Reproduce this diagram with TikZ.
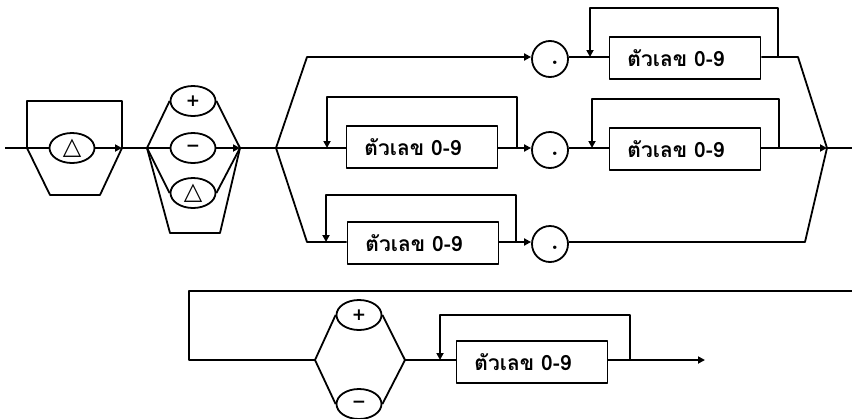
\documentclass[tikz,border=0pt]{standalone}
\usepackage{fontspec}
\newfontfamily\thaifont[Script=Thai]{Loma}
\newfontfamily\symfont{DejaVu Sans}
\usetikzlibrary{shapes.geometric,arrows.meta}
\newcommand{\digits}{ตัวเลข 0-9\hspace*{18pt}}
\begin{document}
\begin{tikzpicture}[x=1pt,y=-1pt,
  line width=1.8pt, line join=round,
  arr/.style={-{Triangle[length=7pt,width=7pt]}},
  digitbox/.style={draw, rectangle, minimum width=151pt, minimum height=42pt, inner sep=0pt,
     font=\thaifont\bfseries\fontsize{21}{24}\selectfont},
  ovalbox/.style={draw, ellipse, minimum width=45pt, minimum height=30pt, inner sep=0pt,
     font=\symfont\bfseries\fontsize{17}{20}\selectfont},
  dotcircle/.style={draw, circle, minimum size=36pt, inner sep=0pt,
     font=\bfseries\fontsize{24}{26}\selectfont}]
\useasboundingbox (0,0) rectangle (852,418);

% ---------- group 1 ----------
\coordinate (s0) at (5,148);
\coordinate (b1) at (27,148);
\coordinate (j1) at (122,148);
\node[ovalbox] (o1) at (72,148) {\fontsize{24}{26}\selectfont △};
\draw (s0) -- (b1) -- (o1.west);
\draw[arr] (o1.east) -- (j1);
\draw (b1) -- (27,101) -- (122,101) -- (j1);
\draw (b1) -- (50,195) -- (100,195) -- (j1);

% ---------- group 2 ----------
\coordinate (b2) at (147,148);
\coordinate (j2) at (240,148);
\node[ovalbox] (plus1) at (193,101) {+};
\node[ovalbox] (minus1) at (193,148) {−};
\node[ovalbox] (sp2) at (193,193) {\fontsize{24}{26}\selectfont △};
\draw (j1) -- (b2);
\draw (b2) -- (plus1.west);
\draw (b2) -- (minus1.west);
\draw (b2) -- (sp2.west);
\draw (plus1.east) -- (j2);
\draw[arr] (minus1.east) -- (j2);
\draw (sp2.east) -- (j2);
\draw (b2) -- (170,233) -- (220,233) -- (j2);

% ---------- three rows ----------
\coordinate (b3) at (276,148);
\coordinate (j3) at (827,148);
\draw (j2) -- (b3);

% top row
\node[dotcircle] (c1) at (550,59) {\hspace*{10pt}.\strut};
\draw[arr] (b3) -- (307,57) -- (c1.west |- 0,57);
\node[digitbox] (d1) at (685,58) {\digits};
\coordinate (l1a) at (590,57);
\coordinate (l1b) at (778,57);
\draw (c1.east |- 0,57) -- (d1.west |- 0,57);
\draw[arr] (l1b) -- (778,8) -- (590,8) -- (l1a);
\draw (d1.east |- 0,57) -- (798,57) -- (j3);

% middle row
\node[digitbox] (d2) at (422,147) {\digits};
\coordinate (l2a) at (327,148);
\coordinate (l2b) at (517,148);
\draw (b3) -- (d2.west |- 0,148);
\draw[arr] (l2b) -- (517,97) -- (327,97) -- (l2a);
\node[dotcircle] (c2) at (550,150) {\hspace*{10pt}.\strut};
\draw[arr] (d2.east |- 0,148) -- (c2.west |- 0,148);
\node[digitbox] (d3) at (685,149) {\digits};
\coordinate (l3a) at (592,148);
\coordinate (l3b) at (779,148);
\draw (c2.east |- 0,148) -- (d3.west |- 0,148);
\draw[arr] (l3b) -- (779,99) -- (592,99) -- (l3a);
\draw[arr] (d3.east |- 0,148) -- (j3);
\coordinate (e3) at (852,148);
\draw (j3) -- (e3);

% bottom row
\node[digitbox] (d4) at (423,243) {\digits};
\coordinate (l4a) at (326,242);
\coordinate (l4b) at (516,242);
\draw (b3) -- (307,242) -- (d4.west |- 0,242);
\draw[arr] (l4b) -- (516,195) -- (326,195) -- (l4a);
\node[dotcircle] (c3) at (550,244) {\hspace*{10pt}.\strut};
\draw[arr] (d4.east |- 0,242) -- (c3.west |- 0,242);
\draw (c3.east |- 0,242) -- (805,242) -- (j3);

% ---------- bottom diagram ----------
\coordinate (t0) at (852,291);
\coordinate (b4) at (315,360);
\coordinate (j4) at (405,360);
\draw (t0) -- (189,291) -- (189,360) -- (b4);
\node[ovalbox] (plus2) at (359,315) {+};
\node[ovalbox] (minus2) at (359,404) {−};
\draw (b4) -- (plus2.west);
\draw (b4) -- (minus2.west);
\draw (plus2.east) -- (j4);
\draw (minus2.east) -- (j4);
\node[digitbox] (d5) at (532,362) {\digits};
\coordinate (l5a) at (440,360);
\coordinate (l5b) at (630,360);
\draw (j4) -- (d5.west |- 0,360);
\draw[arr] (l5b) -- (630,315) -- (440,315) -- (l5a);
\coordinate (end) at (705,360);
\draw[arr] (d5.east |- 0,360) -- (end);
\end{tikzpicture}
\end{document}
